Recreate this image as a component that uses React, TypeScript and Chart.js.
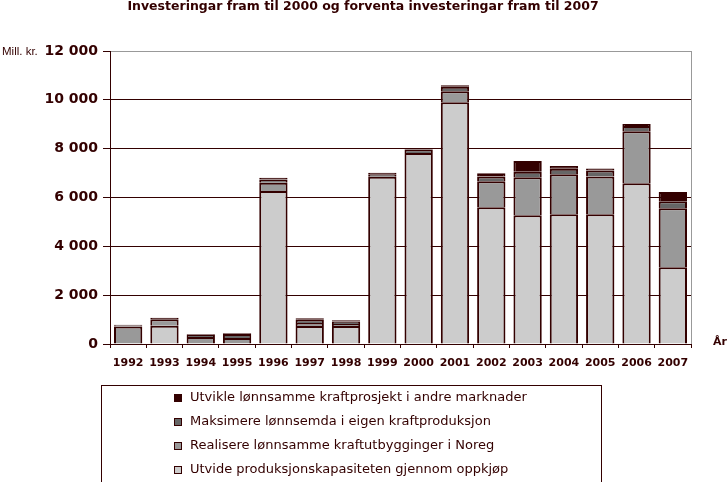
import React, { useEffect, useRef } from "react";
import { Chart, registerables } from "chart.js";

Chart.register(...registerables);

const TITLE = "Investeringar fram til 2000 og forventa investeringar fram til 2007";
const Y_UNIT = "Mill. kr.";
const X_UNIT = "År";

const years = ["1992", "1993", "1994", "1995", "1996", "1997", "1998", "1999", "2000", "2001", "2002", "2003", "2004", "2005", "2006", "2007"];

const seriesNames = [
  "Utvide produksjonskapasiteten gjennom oppkjøp",
  "Realisere lønnsamme kraftutbygginger i Noreg",
  "Maksimere lønnsemda i eigen kraftproduksjon",
  "Utvikle lønnsamme kraftprosjekt i andre marknader",
];

const utvideOppkjop = [0, 750, 0, 0, 6270, 740, 740, 6850, 7820, 9900, 5600, 5270, 5310, 5310, 6580, 3140];
const realisereNoreg = [720, 260, 290, 250, 330, 120, 80, 0, 0, 450, 1065, 1555, 1640, 1555, 2130, 2420];
const maksimereEigen = [50, 0, 80, 160, 135, 130, 100, 100, 150, 190, 190, 230, 230, 245, 220, 285];
const utvikleAndre = [20, 60, 30, 30, 70, 60, 50, 60, 60, 60, 140, 440, 110, 80, 80, 380];

const seriesColors = ["#cccccc", "#999999", "#666666", "#330000"];

const yTicks = [0, 2000, 4000, 6000, 8000, 10000, 12000];

const INK = "#330000";

function fmt(v: number): string {
  if (v < 1000) return String(v);
  return `${Math.floor(v / 1000)} ${String(v % 1000).padStart(3, "0")}`;
}

const nz = (arr: number[]) => arr.map((v) => (v === 0 ? null : v));

export default function App() {
  const ref = useRef<HTMLCanvasElement | null>(null);

  useEffect(() => {
    if (!ref.current) return;
    const allSeries = [utvideOppkjop, realisereNoreg, maksimereEigen, utvikleAndre];

    const decor = {
      id: "decor",
      afterDraw(chart: any) {
        const { ctx, chartArea } = chart;
        ctx.save();
        // right border of plot area
        ctx.strokeStyle = "#999999";
        ctx.lineWidth = 1;
        ctx.beginPath();
        const rx = Math.round(chartArea.right) + 0.5;
        ctx.moveTo(rx, chartArea.top);
        ctx.lineTo(rx, chartArea.bottom);
        ctx.stroke();

        ctx.fillStyle = INK;
        // title
        ctx.font = 'bold 12.5px "DejaVu Sans"';
        ctx.textAlign = "center";
        ctx.textBaseline = "alphabetic";
        ctx.fillText(TITLE, 363, 10);

        // y unit
        ctx.font = '11.5px "Liberation Sans"';
        ctx.textAlign = "left";
        ctx.textBaseline = "middle";
        ctx.fillText(Y_UNIT, 2, 52);

        // x unit
        ctx.font = 'bold 11px "DejaVu Sans"';
        ctx.textAlign = "left";
        ctx.textBaseline = "alphabetic";
        ctx.fillText(X_UNIT, 713, 345);

        // legend box
        ctx.strokeStyle = INK;
        ctx.lineWidth = 1;
        ctx.strokeRect(101.5, 385.5, 500, 110);

        const rowsY = [398, 422, 446, 470];
        for (let i = 0; i < 4; i++) {
          const si = 3 - i;
          const cy = rowsY[i];
          ctx.fillStyle = INK;
          ctx.fillRect(174, cy - 4, 8, 8);
          ctx.fillStyle = seriesColors[si];
          ctx.fillRect(175, cy - 3, 6, 6);
          ctx.fillStyle = INK;
          ctx.font = '13px "DejaVu Sans"';
          ctx.textAlign = "left";
          ctx.textBaseline = "middle";
          ctx.fillText(seriesNames[si], 190, cy);
        }
        ctx.restore();
      },
    };

    const chart = new Chart(ref.current, {
      type: "bar",
      data: {
        labels: years,
        datasets: allSeries.map((arr, i) => ({
          label: seriesNames[i],
          data: nz(arr) as any,
          backgroundColor: seriesColors[i],
          borderColor: INK,
          borderWidth: 2,
          borderSkipped: "start",
          categoryPercentage: 1,
          barPercentage: 0.78,
        })),
      },
      options: {
        responsive: false,
        animation: false,
        devicePixelRatio: 1,
        layout: { padding: { top: 51, right: 37, left: 0, bottom: 0 } },
        plugins: {
          legend: { display: false },
          title: { display: false },
          tooltip: { enabled: false },
        },
        scales: {
          x: {
            stacked: true,
            grid: {
              offset: true,
              drawOnChartArea: false,
              drawTicks: true,
              tickLength: 4,
              color: INK,
              tickColor: INK,
            },
            border: { color: INK, width: 1 },
            ticks: {
              color: INK,
              font: { family: "DejaVu Sans", weight: "bold", size: 11 },
              padding: 9,
              maxRotation: 0,
              autoSkip: false,
            },
            afterFit: (s: any) => {
              s.height = 138;
            },
          },
          y: {
            stacked: true,
            min: 0,
            max: 12000,
            afterBuildTicks: (s: any) => {
              s.ticks = yTicks.map((v) => ({ value: v }));
            },
            grid: {
              color: (c: any) => (c.tick && c.tick.value === 12000 ? "#999999" : INK),
              tickColor: INK,
              tickLength: 7,
            },
            border: { color: INK, width: 1 },
            ticks: {
              color: INK,
              font: { family: "DejaVu Sans", weight: "bold", size: 14 },
              padding: 5,
              callback: (v: any) => fmt(Number(v)),
            },
            afterFit: (s: any) => {
              s.width = 110;
            },
          },
        },
      },
      plugins: [decor],
    });
    return () => chart.destroy();
  }, []);

  return (
    <div style={{ position: "absolute", left: 0, top: 0, width: 728, height: 482, background: "#fff" }}>
      <canvas ref={ref} width={728} height={482} style={{ display: "block" }} />
    </div>
  );
}
